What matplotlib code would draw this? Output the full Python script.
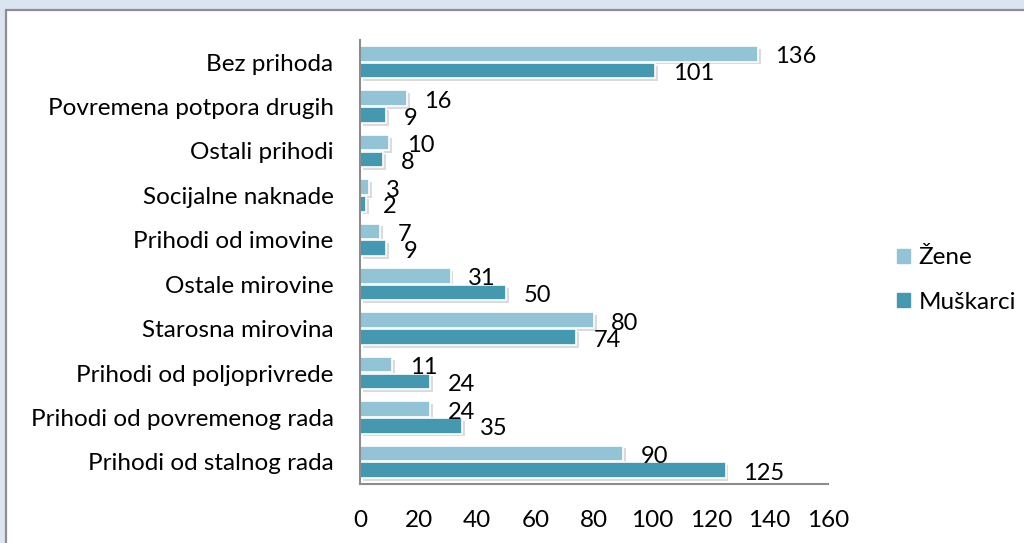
import matplotlib
matplotlib.use("Agg")
import matplotlib.pyplot as plt
import matplotlib.patches as mpatches
import matplotlib.patheffects as pe
import numpy as np

categories = ["Bez prihoda", "Povremena potpora drugih", "Ostali prihodi",
              "Socijalne naknade", "Prihodi od imovine", "Ostale mirovine",
              "Starosna mirovina", "Prihodi od poljoprivrede",
              "Prihodi od povremenog rada", "Prihodi od stalnog rada"]
zene = [136, 16, 10, 3, 7, 31, 80, 11, 24, 90]
muskarci = [101, 9, 8, 2, 9, 50, 74, 24, 35, 125]
xticks = [0, 20, 40, 60, 80, 100, 120, 140, 160]
series_names = ["Žene", "Muškarci"]

plt.rcParams['font.family'] = ['Lato', 'DejaVu Sans']

W, H = 1024, 543
fig = plt.figure(figsize=(W / 100, H / 100), dpi=100, facecolor='#DBE5F1')

# white panel with grey border
panel = mpatches.Rectangle((6 / W, -0.05), 1.1, (H - 9.5) / H + 0.05,
                           transform=fig.transFigure, facecolor='white',
                           edgecolor='#8E8E8E', linewidth=1.6, zorder=-10)
fig.patches.append(panel)

ax = fig.add_axes([360 / W, (H - 484) / H, (828 - 360) / W, (484 - 40) / H])
ax.set_facecolor('none')
ax.set_zorder(1)

n = len(categories)
pos = np.arange(n)[::-1]  # first category on top
h = 0.35
off = 0.19
c_z = '#93C4D5'
c_m = '#4499B0'
shadow = [pe.SimplePatchShadow(offset=(2, -2), shadow_rgbFace='#888888', alpha=0.3), pe.Normal()]

bz = ax.barh(pos + off, zene, height=h, color=c_z, edgecolor='white', linewidth=1.2, label=series_names[0])
bm = ax.barh(pos - off, muskarci, height=h, color=c_m, edgecolor='white', linewidth=1.2, label=series_names[1])
for b in list(bz) + list(bm):
    b.set_path_effects(shadow)

FS = 17
for bars, vals in ((bz, zene), (bm, muskarci)):
    for b, v in zip(bars, vals):
        ax.annotate(str(v), (b.get_width(), b.get_y() + b.get_height() / 2),
                    xytext=(12.5, -2.2), textcoords='offset points',
                    ha='left', va='center', fontsize=FS, color='black')

ax.set_xlim(0, 160)
ax.set_ylim(-0.5, n - 0.5)
ax.set_xticks(xticks)
ax.set_xticklabels([str(t) for t in xticks])
ax.set_yticks(pos)
ax.set_yticklabels(categories)
ax.tick_params(axis='x', length=0, pad=19, labelsize=FS + 0.5)
ax.tick_params(axis='y', length=0, pad=19, labelsize=FS + 0.5)
for s in ('top', 'right'):
    ax.spines[s].set_visible(False)
for s in ('left', 'bottom'):
    ax.spines[s].set_color('#8C8C8C')
    ax.spines[s].set_linewidth(1.5)

handles = [mpatches.Patch(color=c_z), mpatches.Patch(color=c_m)]
fig.legend(handles, series_names, loc='center left',
           bbox_to_anchor=(875 / W, (H - 280) / H), frameon=False,
           fontsize=17.5, handlelength=0.55, handleheight=0.55,
           handletextpad=0.35, labelspacing=0.95)

fig.savefig("out.png", dpi=100, facecolor=fig.get_facecolor())
